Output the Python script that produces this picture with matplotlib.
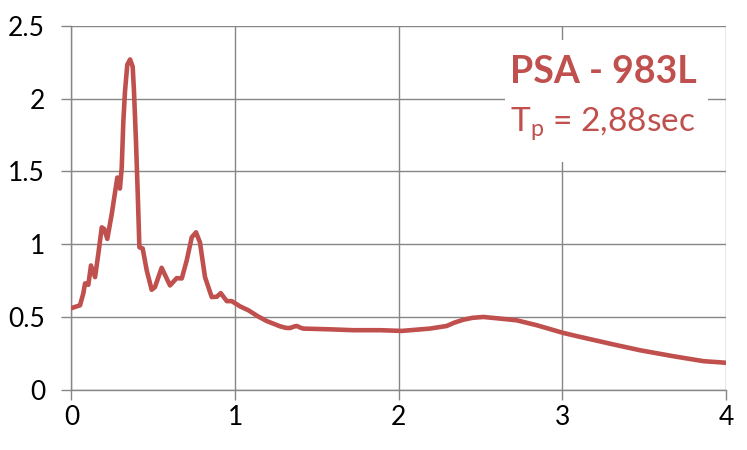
import numpy as np
import matplotlib
matplotlib.use('Agg')
import matplotlib.pyplot as plt
from matplotlib.patches import Rectangle

#Period (sec) and pseudo spectral acceleration
period = [0.0, 0.052, 0.072, 0.083, 0.103, 0.119, 0.144, 0.164, 0.185, 0.2,
          0.219, 0.246, 0.28, 0.296, 0.307, 0.317, 0.327, 0.341, 0.358, 0.374,
          0.382, 0.394, 0.405, 0.415, 0.435, 0.46, 0.49, 0.51, 0.551, 0.578,
          0.602, 0.643, 0.674, 0.704, 0.735, 0.761, 0.785, 0.816, 0.857, 0.888,
          0.912, 0.949, 0.979, 1.03, 1.081, 1.14, 1.193, 1.24, 1.274, 1.31,
          1.336, 1.36, 1.377, 1.40, 1.417, 1.58, 1.723, 1.886, 2.018, 2.19,
          2.293, 2.34, 2.395, 2.45, 2.517, 2.6, 2.721, 2.844, 3.006, 3.108,
          3.312, 3.475, 3.678, 3.862, 4.0]
psa = [0.56, 0.579, 0.66, 0.73, 0.72, 0.853, 0.773, 0.933, 1.115, 1.104,
       1.036, 1.207, 1.458, 1.382, 1.526, 1.846, 2.05, 2.234, 2.27, 2.22,
       2.05, 1.71, 1.344, 0.978, 0.97, 0.818, 0.686, 0.704, 0.837, 0.773,
       0.716, 0.766, 0.764, 0.887, 1.047, 1.081, 1.012, 0.773, 0.636, 0.638,
       0.663, 0.608, 0.608, 0.572, 0.545, 0.503, 0.471, 0.45, 0.435, 0.424,
       0.423, 0.433, 0.437, 0.425, 0.419, 0.414, 0.408, 0.408, 0.403, 0.419,
       0.437, 0.46, 0.48, 0.493, 0.499, 0.49, 0.476, 0.442, 0.389, 0.362,
       0.31, 0.27, 0.229, 0.195, 0.184]

xticks = [0, 1, 2, 3, 4]
yticks = [0, 0.5, 1, 1.5, 2, 2.5]
ytick_labels = ['0', '0.5', '1', '1.5', '2', '2.5']

title = 'PSA - 983L'
subtitle = r'T$_\mathregular{p}$ = 2,88sec'

red = '#C0504D'
gray = '#868686'

plt.rcParams['font.family'] = ['Lato', 'DejaVu Sans']
plt.rcParams['mathtext.fontset'] = 'custom'
plt.rcParams['mathtext.rm'] = 'Lato'

fig = plt.figure(figsize=(7.47, 4.5), dpi=100)
ax = fig.add_axes([0.0957, 0.1344, 0.8762, 0.8078])

ax.plot(period, psa, color=red, lw=3.3, solid_capstyle='round',
        solid_joinstyle='round', zorder=3)

ax.set_xlim(0, 4)
ax.set_ylim(0, 2.5)
ax.set_xticks(xticks)
ax.set_yticks(yticks)
ax.set_yticklabels(ytick_labels)

ax.grid(True, color=gray, lw=1)
for s in ['top', 'right']:
    ax.spines[s].set_visible(False)
for s in ['left', 'bottom']:
    ax.spines[s].set_color(gray)
    ax.spines[s].set_linewidth(1)
ax.tick_params(axis='both', color=gray, length=7, width=1, labelsize=19)
ax.tick_params(axis='y', pad=12)
ax.tick_params(axis='x', pad=4)

#white label box over the grid
ax.add_patch(Rectangle((0.662, 0.626), 0.31, 0.335, transform=ax.transAxes,
                       facecolor='white', edgecolor='none', zorder=2.5))
ax.text(0.812, 0.843, title, transform=ax.transAxes, ha='center',
        va='baseline', color=red, fontsize=27, fontweight='bold', zorder=4)
ax.text(0.812, 0.711, subtitle, transform=ax.transAxes, ha='center',
        va='baseline', color=red, fontsize=24, zorder=4)

fig.savefig('out.png', dpi=100)
